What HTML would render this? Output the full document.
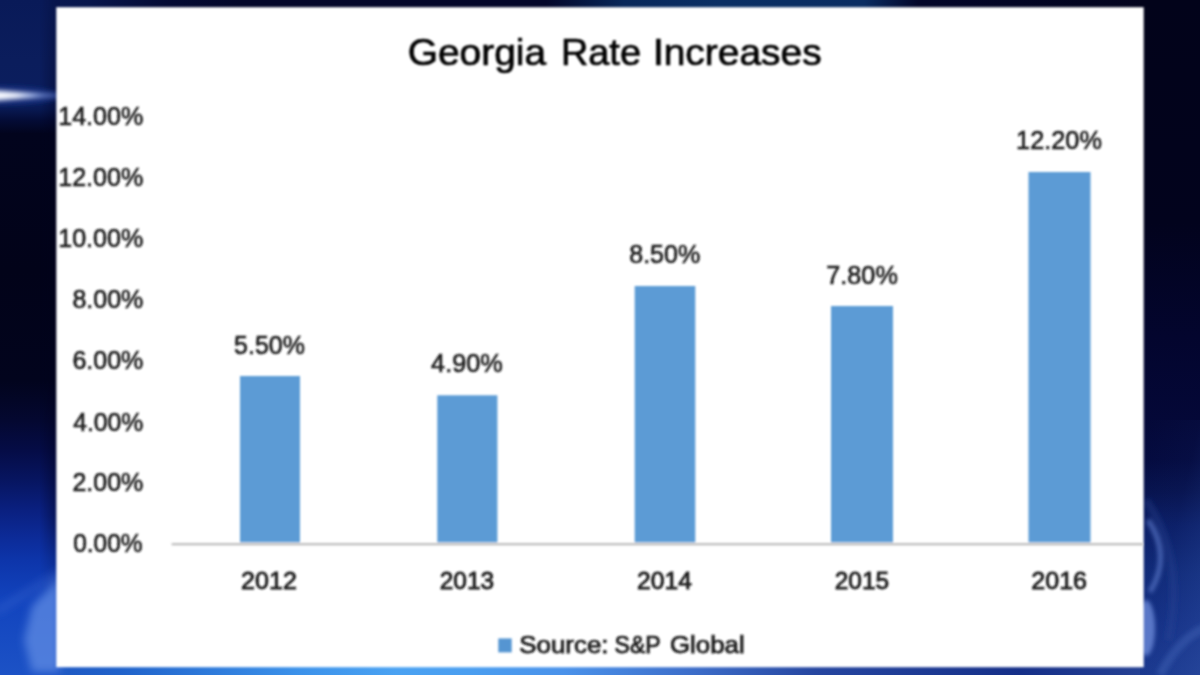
<!DOCTYPE html>
<html>
<head>
<meta charset="utf-8">
<title>Georgia Rate Increases</title>
<style>
  html, body { margin: 0; padding: 0; width: 1200px; height: 675px; overflow: hidden; background: #03062a; }
  svg { display: block; position: absolute; left: 0; top: 0; }
  text { font-family: "Liberation Sans", sans-serif; }
  .lbl { fill: #181818; stroke: #181818; stroke-width: 0.6px; font-size: 25.0px; }
  .ttl { fill: #020202; stroke: #020202; stroke-width: 0.7px; font-size: 36.6px; }
  .yr { fill: #161616; stroke: #161616; stroke-width: 0.8px; font-size: 24.0px; }
  .lg  { fill: #181818; stroke: #181818; stroke-width: 0.75px; font-size: 24.2px; }
</style>
</head>
<body>
<svg width="1200" height="675" viewBox="0 0 1200 675">
  <defs>
    <!-- left strip vertical gradient -->
    <linearGradient id="gL" x1="0" y1="0" x2="0" y2="1">
      <stop offset="0"      stop-color="#091a58"/>
      <stop offset="0.09"   stop-color="#0b1d5c"/>
      <stop offset="0.15"   stop-color="#0b1e5e"/>
      <stop offset="0.163"  stop-color="#081850"/>
      <stop offset="0.178"  stop-color="#040c36"/>
      <stop offset="0.198"  stop-color="#02041d"/>
      <stop offset="0.40"   stop-color="#020319"/>
      <stop offset="0.563"  stop-color="#02041d"/>
      <stop offset="0.622"  stop-color="#040830"/>
      <stop offset="0.667"  stop-color="#050c46"/>
      <stop offset="0.711"  stop-color="#071560"/>
      <stop offset="0.756"  stop-color="#0a2080"/>
      <stop offset="0.80"   stop-color="#0c2c9a"/>
      <stop offset="0.83"   stop-color="#0d35aa"/>
      <stop offset="0.89"   stop-color="#1244be"/>
      <stop offset="1"      stop-color="#1c52c6"/>
    </linearGradient>
    <!-- right strip vertical gradient -->
    <linearGradient id="gR" x1="0" y1="0" x2="0" y2="1">
      <stop offset="0"     stop-color="#02031a"/>
      <stop offset="0.33"  stop-color="#02031d"/>
      <stop offset="0.50"  stop-color="#03052e"/>
      <stop offset="0.63"  stop-color="#040838"/>
      <stop offset="0.68"  stop-color="#040a3e"/>
      <stop offset="0.73"  stop-color="#07134e"/>
      <stop offset="0.78"  stop-color="#0b1e66"/>
      <stop offset="0.85"  stop-color="#102a78"/>
      <stop offset="0.92"  stop-color="#142f84"/>
      <stop offset="1"     stop-color="#1a388e"/>
    </linearGradient>
    <!-- top strip horizontal gradient -->
    <linearGradient id="gT" x1="0" y1="0" x2="1" y2="0">
      <stop offset="0"     stop-color="#091a58"/>
      <stop offset="0.045" stop-color="#091850"/>
      <stop offset="0.075" stop-color="#08164c"/>
      <stop offset="0.14"  stop-color="#040a34"/>
      <stop offset="0.20"  stop-color="#03072a"/>
      <stop offset="0.455" stop-color="#03062a"/>
      <stop offset="0.52"  stop-color="#08285a"/>
      <stop offset="0.60"  stop-color="#0a2f64"/>
      <stop offset="0.72"  stop-color="#0a2d62"/>
      <stop offset="0.765" stop-color="#03062a"/>
      <stop offset="1"     stop-color="#02031a"/>
    </linearGradient>
    <!-- bottom strip horizontal gradient -->
    <linearGradient id="gB" x1="0" y1="0" x2="1" y2="0">
      <stop offset="0"     stop-color="#1e50bd"/>
      <stop offset="0.10"  stop-color="#2062ca"/>
      <stop offset="0.25"  stop-color="#3c92ea"/>
      <stop offset="0.33"  stop-color="#4aa2f2"/>
      <stop offset="0.39"  stop-color="#4a9ef0"/>
      <stop offset="0.47"  stop-color="#4a92ea"/>
      <stop offset="0.58"  stop-color="#3c6cc8"/>
      <stop offset="0.68"  stop-color="#2646a0"/>
      <stop offset="0.85"  stop-color="#152f88"/>
      <stop offset="0.94"  stop-color="#243f92"/>
      <stop offset="1"     stop-color="#2a4a9c"/>
    </linearGradient>
    <linearGradient id="gRx" x1="0" y1="0" x2="1" y2="1">
      <stop offset="0"   stop-color="#2a4aa0" stop-opacity="0"/>
      <stop offset="0.5" stop-color="#2a4aa0" stop-opacity="0.06"/>
      <stop offset="1"   stop-color="#3456aa" stop-opacity="0.4"/>
    </linearGradient>
    <linearGradient id="gLx" x1="0" y1="0" x2="1" y2="0">
      <stop offset="0"   stop-color="#00001a" stop-opacity="0"/>
      <stop offset="0.8" stop-color="#00001a" stop-opacity="0.4"/>
      <stop offset="1"   stop-color="#00001a" stop-opacity="0.4"/>
    </linearGradient>
    <linearGradient id="gLm" x1="0" y1="0" x2="0" y2="1">
      <stop offset="0"    stop-color="#fff" stop-opacity="0.5"/>
      <stop offset="0.2"  stop-color="#fff" stop-opacity="1"/>
      <stop offset="0.86" stop-color="#fff" stop-opacity="1"/>
      <stop offset="1"    stop-color="#fff" stop-opacity="0"/>
    </linearGradient>
    <mask id="mL" maskUnits="userSpaceOnUse" x="0" y="0" width="60" height="600"><rect x="0" y="0" width="60" height="600" fill="url(#gLm)"/></mask>
    <linearGradient id="gS1" gradientUnits="userSpaceOnUse" x1="0" y1="0" x2="60" y2="0">
      <stop offset="0"   stop-color="#b8caf4" stop-opacity="1"/>
      <stop offset="0.5" stop-color="#8ea6e4" stop-opacity="0.9"/>
      <stop offset="1"   stop-color="#5a76c4" stop-opacity="0.55"/>
    </linearGradient>
    <linearGradient id="gS2" gradientUnits="userSpaceOnUse" x1="0" y1="0" x2="44" y2="0">
      <stop offset="0"    stop-color="#ffffff" stop-opacity="1"/>
      <stop offset="0.35" stop-color="#ffffff" stop-opacity="0.95"/>
      <stop offset="1"    stop-color="#dfe8ff" stop-opacity="0"/>
    </linearGradient>
    <filter id="b4" x="-50%" y="-50%" width="200%" height="200%"><feGaussianBlur stdDeviation="4"/></filter>
    <filter id="b2" x="-50%" y="-50%" width="200%" height="200%"><feGaussianBlur stdDeviation="2"/></filter>
    <filter id="soft" filterUnits="userSpaceOnUse" x="40" y="0" width="1120" height="675"><feGaussianBlur stdDeviation="0.85"/></filter>
  </defs>

  <!-- background strips -->
  <rect x="0" y="0" width="1200" height="12" fill="url(#gT)"/>
  <rect x="0" y="660" width="1200" height="15" fill="url(#gB)"/>
  <rect x="0" y="0" width="60" height="675" fill="url(#gL)"/>
  <rect x="1140" y="0" width="60" height="675" fill="url(#gR)"/>
  <!-- far-right lighter tint near bottom -->
  <rect x="1140" y="420" width="60" height="255" fill="url(#gRx)"/>
  <!-- darker edge next to panel (left) -->
  <rect x="40" y="0" width="20" height="600" fill="url(#gLx)" mask="url(#mL)"/>

  <!-- lens-flare streak on the left -->
  <g filter="url(#b2)">
    <ellipse cx="-6" cy="95.5" rx="68" ry="10" fill="#26409c" opacity="0.5"/>
    <path d="M-8 90.2 L20 92 L60 94.7 L60 96.3 L20 98.8 L-8 100.8 Z" fill="url(#gS1)"/>
    <path d="M-8 92.4 L44 94.9 L44 96.1 L-8 98.6 Z" fill="url(#gS2)"/>
  </g>

  <!-- swirl highlight bottom-left -->
  <g filter="url(#b4)">
    <path d="M60 576 L60 672 L32 672 L24 640 L32 606 Z" fill="#6490e6" opacity="0.7"/>
    <path d="M60 572 L-4 612" stroke="#4a74d6" stroke-width="5" opacity="0.45" fill="none"/>
  </g>
  <!-- swirl highlights bottom-right -->
  <g filter="url(#b2)" fill="none">
    <path d="M1148 520 Q1172 556 1150 592" stroke="#5a78c8" stroke-width="5" opacity="0.7"/>
    <path d="M1146 500 Q1186 560 1168 640" stroke="#2a4698" stroke-width="8" opacity="0.3"/>
    <ellipse cx="1146" cy="628" rx="9" ry="28" fill="#6a8ad8" opacity="0.8" stroke="none"/>
    <path d="M1160 675 Q1178 640 1204 628" stroke="#3c5cae" stroke-width="9" opacity="0.55"/>
  </g>

  <!-- white panel -->
  <rect x="56.3" y="7.2" width="1087.4" height="660" fill="#ffffff" filter="url(#soft)"/>

  <!-- chart contents -->
  <g id="chart" filter="url(#soft)">
    <!-- axis line -->
    <rect x="171.6" y="543.1" width="971.4" height="2.2" fill="#bdbdbd"/>

    <!-- bars -->
    <g fill="#5b9bd5">
      <rect x="240"  y="376" width="60" height="166.3"/>
      <rect x="437.3" y="395.3" width="60.1" height="147.0"/>
      <rect x="634.7"  y="286" width="60.6" height="256.3"/>
      <rect x="831"  y="306" width="62" height="236.3"/>
      <rect x="1028.5" y="172" width="62" height="370.3"/>
    </g>

    <g>
    <!--TEXT-START-->
    <text class="ttl" x="407.70" y="64.8" textLength="138.41" lengthAdjust="spacingAndGlyphs">Georgia</text>
    <text class="ttl" x="560.90" y="64.8" textLength="80.07" lengthAdjust="spacingAndGlyphs">Rate</text>
    <text class="ttl" x="652.90" y="64.8" textLength="168.84" lengthAdjust="spacingAndGlyphs">Increases</text>
    <text class="lbl" x="58.20" y="124.8" textLength="85.12" lengthAdjust="spacingAndGlyphs">14.00%</text>
    <text class="lbl" x="58.20" y="186.0" textLength="85.12" lengthAdjust="spacingAndGlyphs">12.00%</text>
    <text class="lbl" x="58.20" y="247.1" textLength="85.12" lengthAdjust="spacingAndGlyphs">10.00%</text>
    <text class="lbl" x="72.40" y="308.3" textLength="70.97" lengthAdjust="spacingAndGlyphs">8.00%</text>
    <text class="lbl" x="72.40" y="369.4" textLength="70.94" lengthAdjust="spacingAndGlyphs">6.00%</text>
    <text class="lbl" x="73.20" y="430.5" textLength="70.18" lengthAdjust="spacingAndGlyphs">4.00%</text>
    <text class="lbl" x="72.40" y="491.4" textLength="70.97" lengthAdjust="spacingAndGlyphs">2.00%</text>
    <text class="lbl" x="73.20" y="552.2" textLength="69.43" lengthAdjust="spacingAndGlyphs">0.00%</text>
    <text class="lbl" x="234.10" y="354.4" textLength="70.74" lengthAdjust="spacingAndGlyphs">5.50%</text>
    <text class="lbl" x="431.10" y="371.8" textLength="71.76" lengthAdjust="spacingAndGlyphs">4.90%</text>
    <text class="lbl" x="629.20" y="262.8" textLength="71.07" lengthAdjust="spacingAndGlyphs">8.50%</text>
    <text class="lbl" x="826.30" y="283.8" textLength="71.52" lengthAdjust="spacingAndGlyphs">7.80%</text>
    <text class="lbl" x="1016.10" y="149.0" textLength="85.83" lengthAdjust="spacingAndGlyphs">12.20%</text>
    <text class="yr" x="241.10" y="589.1" textLength="55.76" lengthAdjust="spacingAndGlyphs">2012</text>
    <text class="yr" x="439.70" y="589.1" textLength="54.38" lengthAdjust="spacingAndGlyphs">2013</text>
    <text class="yr" x="637.10" y="589.1" textLength="54.81" lengthAdjust="spacingAndGlyphs">2014</text>
    <text class="yr" x="834.70" y="589.1" textLength="54.38" lengthAdjust="spacingAndGlyphs">2015</text>
    <text class="yr" x="1031.30" y="589.1" textLength="55.75" lengthAdjust="spacingAndGlyphs">2016</text>
    <text class="lg" x="519.30" y="652.9" textLength="89.18" lengthAdjust="spacingAndGlyphs">Source:</text>
    <text class="lg" x="614.60" y="652.9" textLength="46.10" lengthAdjust="spacingAndGlyphs">S&amp;P</text>
    <text class="lg" x="670.00" y="652.9" textLength="74.72" lengthAdjust="spacingAndGlyphs">Global</text>
    <!--TEXT-END-->
    <rect x="498.3" y="638.4" width="13.4" height="14" fill="#5595d2"/>
    </g>
  </g>
</svg>
</body>
</html>
